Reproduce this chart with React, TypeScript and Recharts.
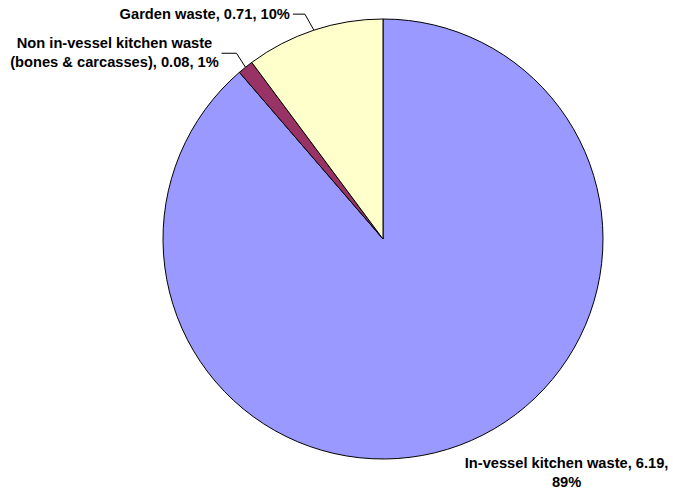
import React from "react";
import { PieChart, Pie, Cell } from "recharts";

const categories = [
  "In-vessel kitchen waste",
  "Non in-vessel kitchen waste (bones & carcasses)",
  "Garden waste",
];
const values = [6.19, 0.08, 0.71];
const labelLines = [
  ["In-vessel kitchen waste, 6.19,", "89%"],
  ["Non in-vessel kitchen waste", "(bones & carcasses), 0.08, 1%"],
  ["Garden waste, 0.71, 10%"],
];

const colors = ["#9999FF", "#993366", "#FFFFCC"];

// label layout (style only): offset of text from slice edge point, and leader elbow
const layout = [
  { dx: 107, dy: 23, anchor: "middle", leader: null as null | number[] },
  { dx: -131, dy: -19, anchor: "middle", leader: [-9, -14, -24, -14] },
  { dx: -24, dy: -11, anchor: "end", leader: [-9, -16, -21, -16] },
];

const data = categories.map((name, i) => ({ name, value: values[i], idx: i }));

const RADIAN = Math.PI / 180;

const renderLabel = (props: any) => {
  const { cx, cy, midAngle, outerRadius, index } = props;
  const ex = cx + outerRadius * Math.cos(-midAngle * RADIAN);
  const ey = cy + outerRadius * Math.sin(-midAngle * RADIAN);
  const l = layout[index];
  const lines = labelLines[index];
  return (
    <g key={"lbl" + index}>
      {l.leader && (
        <polyline
          points={`${ex},${ey} ${ex + l.leader[0]},${ey + l.leader[1]} ${ex + l.leader[2]},${ey + l.leader[3]}`}
          fill="none"
          stroke="#000"
          strokeWidth={1}
        />
      )}
      <text
        x={ex + l.dx}
        y={ey + l.dy}
        textAnchor={l.anchor as any}
        fontFamily="'Liberation Sans', Arial, sans-serif"
        fontWeight="bold"
        fontSize={14.67}
        fill="#000"
      >
        {lines.map((t, j) => (
          <tspan key={j} x={ex + l.dx} dy={j === 0 ? 0 : 18.5}>
            {t}
          </tspan>
        ))}
      </text>
    </g>
  );
};

export default function App() {
  return (
    <div style={{ position: "absolute", left: 0, top: 0, width: 673, height: 494, background: "#fff" }}>
      <PieChart width={673} height={494} margin={{ top: 0, right: 0, bottom: 0, left: 0 }}>
        <Pie
          data={data}
          dataKey="value"
          nameKey="name"
          cx={383}
          cy={239}
          outerRadius={220}
          startAngle={90}
          endAngle={-270}
          stroke="#000"
          strokeWidth={1}
          label={renderLabel}
          labelLine={false}
          isAnimationActive={false}
        >
          {data.map((d, i) => (
            <Cell key={i} fill={colors[i]} />
          ))}
        </Pie>
      </PieChart>
    </div>
  );
}
